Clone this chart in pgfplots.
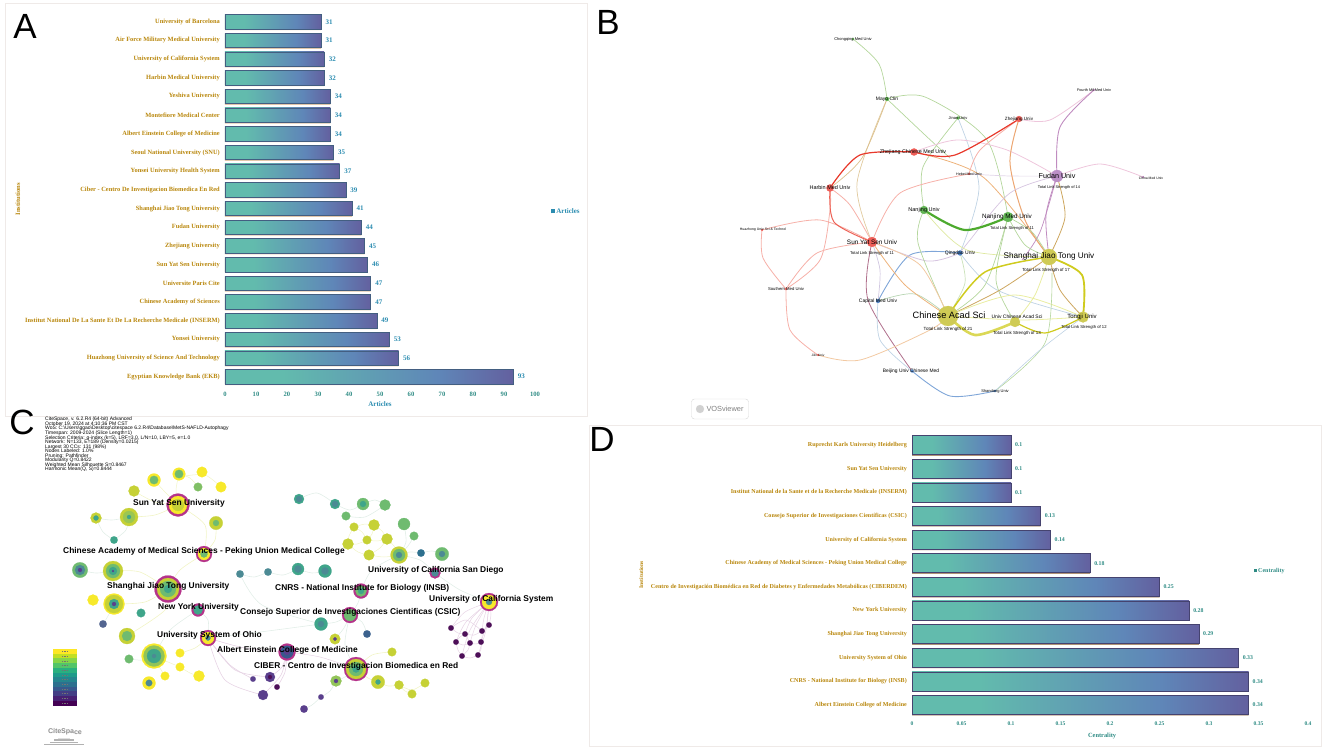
\documentclass[border=0pt]{standalone}
\usepackage{pgfplots}
\usepackage{fontspec}
\pgfplotsset{compat=1.18}
\setmainfont{Liberation Serif}
\newfontfamily\ars{Liberation Sans}
\setlength{\lineskiplimit}{-20pt}

\definecolor{gold}{HTML}{B8860B}
\definecolor{tealtx}{HTML}{2E8B84}
\definecolor{bluetx}{HTML}{2B8CB0}
\definecolor{frame}{HTML}{EFEAE8}
\definecolor{barA}{HTML}{62BBAD}
\definecolor{barB}{HTML}{5F86B8}
\definecolor{barC}{HTML}{63609F}
\pgfdeclarehorizontalshading{barshade}{100bp}{color(0bp)=(barA); color(35bp)=(barA); color(62bp)=(barB); color(75bp)=(barC); color(100bp)=(barC)}

% network colours
\definecolor{gl}{HTML}{B4D69C}
\definecolor{rd}{HTML}{E8392B}
\definecolor{pk}{HTML}{F6B0A8}
\definecolor{lav}{HTML}{D6C4E0}
\definecolor{mv}{HTML}{C08CC0}
\definecolor{pkl}{HTML}{EEC6DC}
\definecolor{org}{HTML}{EDB27A}
\definecolor{tan}{HTML}{CDA65E}
\definecolor{ybig}{HTML}{CFCB1E}
\definecolor{yl2}{HTML}{E9EDA0}
\definecolor{blu}{HTML}{7FA6D8}
\definecolor{blL}{HTML}{BFD3E4}
\definecolor{gth}{HTML}{4DAA2E}
\definecolor{rose}{HTML}{B0708C}
\definecolor{ndR}{HTML}{EE5E58}
\definecolor{ndG}{HTML}{62B554}
\definecolor{ndY}{HTML}{CFCB55}
\definecolor{ndB}{HTML}{4F83C4}
\definecolor{ndP}{HTML}{BB8FC6}
% citespace colours
\definecolor{mg}{HTML}{B5338A}
\definecolor{yl}{HTML}{F7E92B}
\definecolor{yg}{HTML}{C6D136}
\definecolor{gr}{HTML}{6FBB70}
\definecolor{te}{HTML}{3FA58A}
\definecolor{bt}{HTML}{4C8A94}
\definecolor{pu}{HTML}{5A3F8C}
\definecolor{dp}{HTML}{4D0F58}
\definecolor{ly}{HTML}{F1F4C6}
\definecolor{lg}{HTML}{E2EEE8}
\definecolor{lp}{HTML}{E6D3E4}
% colour legend
\definecolor{v1}{HTML}{FDE725}\definecolor{v2}{HTML}{C2DF23}\definecolor{v3}{HTML}{86D549}
\definecolor{v4}{HTML}{52C569}\definecolor{v5}{HTML}{2AB07F}\definecolor{v6}{HTML}{1E9B8A}
\definecolor{v7}{HTML}{25858E}\definecolor{v8}{HTML}{2D708E}\definecolor{v9}{HTML}{38588C}
\definecolor{v10}{HTML}{433E85}\definecolor{v11}{HTML}{482173}\definecolor{v12}{HTML}{440154}

\newcommand{\E}[3]{\addplot[color=#1,line width=#2pt,smooth,mark=none] coordinates {#3};}
\newcommand{\Nd}[4]{\addplot[only marks,mark=*,mark size=#3pt,color=#4,mark options={solid,line width=0.2pt}] coordinates {(#1,#2)};}
\newcommand{\T}[4]{\node[inner sep=0pt,font=\ars\fontsize{#3}{#3}\selectfont] at (axis cs:#1,#2) {#4};}
\newcommand{\TB}[3]{\node[inner sep=0pt,anchor=west,font=\ars\bfseries\fontsize{8.4}{8.4}\selectfont] at (axis cs:#1,#2) {#3};}
\newcommand{\Band}[2]{\addplot[color=#2,line width=4.95pt,mark=none] coordinates {(53,#1)(77,#1)};\addplot[color=black!55,line width=0.7pt,dash pattern=on 1pt off 0.6pt,mark=none] coordinates {(62,#1)(68,#1)};}
\newcommand{\BrA}[2]{\addplot[xbar,bar width=14.4pt,bar shift=0pt,shading=barshade,draw=barB!70!black,line width=.5pt,nodes near coords,point meta=x,nodes near coords style={font=\bfseries\fontsize{7}{7}\selectfont,text=bluetx,anchor=west,xshift=1pt}] coordinates {(#1,#2)};}
\newcommand{\BrD}[2]{\addplot[xbar,bar width=19pt,bar shift=0pt,shading=barshade,draw=barC!70!black,line width=.5pt,nodes near coords,point meta=x,nodes near coords style={font=\bfseries\fontsize{5.8}{5.8}\selectfont,text=tealtx,anchor=west,xshift=0.5pt}] coordinates {(#1,#2)};}

\pgfplotsset{
  barax/.style={
    scale only axis, axis x line*=bottom, axis y line*=left,
    axis line style={draw=none}, major tick length=0pt,
    /pgf/number format/assume math mode=true,
    clip=false,
  },
  pixax/.style={at={(0pt,0pt)},anchor=south west,scale only axis,width=1325pt,height=751pt,
    xmin=0,xmax=1325,ymin=0,ymax=751,y dir=reverse,axis lines=none,clip=false},
}

\begin{document}
\begin{tikzpicture}[x=1pt,y=1pt]
\path[use as bounding box] (0,0) rectangle (1325pt,751pt);

% whole-picture axis in pixel units, holds frames and both networks
\begin{axis}[pixax]
\addplot[color=frame,line width=1pt,mark=none] coordinates {(5,4)(587,4)(587,416)(5,416)(5,4)};
\addplot[color=frame,line width=1pt,mark=none] coordinates {(589,425)(1321,425)(1321,746)(589,746)(589,425)};

% ---- B: VOSviewer links
\E{gl}{.7}{(853,39)(879,64)(887,99)}
\E{tan!60}{.7}{(887,99)(857,183)(872,242)}
\E{gl}{.7}{(887,99)(925,97)(987,140)(1008,217)}
\E{gl}{.7}{(887,99)(925,135)(950,158)}
\E{tan!70}{.7}{(830,188)(862,158)(887,99)}
\E{gl}{.7}{(958,118)(923,167)(924,210)}
\E{blL}{.7}{(958,118)(979,187)(960,253)}
\E{org}{.8}{(914,152)(983,177)(1049,257)}
\E{pkl}{.8}{(914,152)(957,140)(1007,150)(1057,176)}
\E{lav!70}{.7}{(969,174)(1010,176)(1057,176)}
\E{pk}{.8}{(872,242)(900,193)(969,174)}
\E{pk}{.8}{(969,174)(980,150)(1019,119)}
\E{org!90!rd}{1}{(1019,119)(1010,163)(1025,220)(1049,257)}
\E{pkl}{.8}{(1019,119)(1050,120)(1094,90)}
\E{mv}{.9}{(1094,90)(1060,127)(1057,176)}
\E{pkl}{.8}{(1057,176)(1100,164)(1143,177)}
\E{mv}{.8}{(1057,176)(1046,215)(1049,257)}
\E{tan}{.8}{(1057,176)(1065,217)(1049,257)}
\E{mv}{.7}{(1057,176)(1040,232)(1022,260)}
\E{lav}{.7}{(1057,176)(1010,193)(970,240)(960,253)}
\E{blu}{.9}{(960,253)(910,255)(878,301)}
\E{lav}{.8}{(960,253)(927,261)(872,242)}
\E{blL}{.7}{(960,253)(997,290)(1083,317)}
\E{gl!70}{.7}{(960,253)(965,283)(948,316)}
\E{gl}{.7}{(924,210)(918,243)(948,316)}
\E{yl2!80!gl}{.7}{(924,210)(967,250)(1049,257)}
\E{gl}{.7}{(1008,217)(1025,245)(1049,257)}
\E{gl}{.7}{(1008,217)(1032,232)(1049,257)}
\E{gl}{.7}{(1008,217)(996,280)(1015,322)}
\E{gl}{.7}{(1008,217)(985,285)(948,316)}
\E{tan}{.8}{(948,316)(1000,290)(1049,257)}
\E{tan}{.8}{(1049,257)(1060,290)(1083,317)}
\E{yl2}{.8}{(948,316)(1015,295)(1083,317)}
\E{yl2}{.8}{(948,316)(1020,320)(1083,317)}
\E{yl2}{.8}{(1049,257)(1035,295)(1015,322)}
\E{gl}{.6}{(1052,273)(1045,343)(995,391)}
\E{blL}{.6}{(1083,317)(1040,350)(995,391)}
\E{rose}{.8}{(872,242)(868,300)(912,371)}
\E{blu}{.9}{(912,371)(950,396)(995,391)}
\E{blL}{.7}{(878,301)(880,340)(912,371)}
\E{lav!80!blL}{.7}{(872,242)(880,270)(878,301)}
\E{gl!70!blL}{.7}{(878,301)(915,294)(948,316)}
\E{org}{.8}{(872,242)(905,285)(948,316)}
\E{org!70}{.8}{(872,242)(920,265)(948,316)}
\E{pk}{.8}{(762,230)(820,220)(872,242)}
\E{pk}{.8}{(762,230)(763,258)(786,289)}
\E{pk}{.8}{(786,289)(817,253)(872,242)}
\E{pk}{.8}{(786,289)(820,260)(830,210)(830,188)}
\E{pk}{.8}{(786,289)(790,330)(818,355)}
\E{org!70}{.8}{(818,355)(860,360)(930,330)(948,316)}
\E{pk}{.8}{(830,188)(850,205)(872,242)}
\E{rd!80}{1}{(830,188)(834,222)(872,242)}
\E{rd}{1.2}{(830,188)(860,155)(914,152)}
\E{rd}{1.2}{(914,152)(955,155)(1019,119)}
\E{gth}{2.2}{(924,210)(965,230)(1008,217)}
\E{ybig}{1.5}{(948,316)(985,272)(1049,257)}
\E{ybig}{1.8}{(1049,257)(1082,275)(1083,317)}
\E{ybig!75}{2.6}{(948,316)(975,335)(1015,322)}
\E{ybig}{1.2}{(1015,322)(1045,333)(1083,317)}

% ---- B: nodes
\Nd{853}{39}{1.2}{ndG}\Nd{887}{99}{2}{ndG}\Nd{958}{118}{1.6}{ndG}
\Nd{914}{152}{3.6}{ndR}\Nd{830}{188}{3.6}{ndR}\Nd{969}{174}{1}{ndR}
\Nd{924}{210}{4}{ndG}\Nd{1019}{119}{3}{ndR}\Nd{1094}{90}{1}{mv}
\Nd{1057}{176}{6}{ndP}\Nd{1143}{177}{1}{mv}\Nd{1008}{217}{5}{ndG}
\Nd{872}{242}{5}{ndR}\Nd{762}{230}{1}{ndR}\Nd{960}{253}{2.5}{ndB}
\Nd{1049}{257}{8}{ndY}\Nd{786}{289}{1.2}{ndR}\Nd{878}{301}{2}{ndB}
\Nd{948}{316}{10}{ndY}\Nd{1015}{322}{5}{ndY}\Nd{1083}{317}{5.5}{ndY}
\Nd{818}{355}{1}{ndR}\Nd{912}{371}{1.6}{ndB}\Nd{995}{391}{1.2}{ndB}

% ---- C: CiteSpace links
\E{ly}{.5}{(178,505)(165,492)(154,480)}
\E{ly}{.5}{(178,505)(176,490)(179,474)}
\E{ly}{.6}{(178,505)(155,515)(129,517)}
\E{ly}{.6}{(178,505)(205,525)(204,554)}
\E{ly}{.5}{(179,474)(190,478)(198,487)}
\E{ly}{.5}{(185,476)(205,475)(221,487)}
\E{ly}{.5}{(134,491)(155,502)(178,505)}
\E{lg}{.6}{(129,517)(112,520)(96,518)}
\E{lg}{.6}{(129,517)(126,530)(114,540)}
\E{lg}{.6}{(96,518)(103,532)(114,540)}
\E{ly}{.6}{(216,523)(215,540)(204,554)}
\E{ly}{.6}{(204,554)(180,570)(168,589)}
\E{ly}{.6}{(113,571)(140,572)(168,589)}
\E{lg}{.6}{(80,570)(96,573)(113,571)}
\E{ly}{.6}{(114,604)(145,602)(168,589)}
\E{ly}{.6}{(168,589)(165,610)(127,636)}
\E{lg}{.5}{(103,624)(108,616)(114,604)}
\E{lg}{.6}{(198,610)(208,620)(208,638)}
\E{lg}{.6}{(154,656)(170,630)(198,610)}
\E{ly}{.6}{(208,638)(195,648)(180,653)}
\E{ly}{.5}{(154,656)(168,662)(180,667)}
\E{ly}{.5}{(154,656)(160,668)(165,676)}
\E{ly}{.5}{(180,667)(190,673)(199,676)}
\E{lg}{.5}{(154,656)(142,660)(129,659)}
\E{lp}{.6}{(208,638)(245,648)(287,652)}
\E{lp}{.6}{(208,638)(235,670)(270,677)}
\E{lp}{.6}{(208,638)(225,680)(263,695)}
\E{lp}{.6}{(208,638)(230,665)(253,679)}
\E{lp}{.6}{(287,652)(282,667)(270,677)}
\E{lp}{.6}{(287,652)(281,675)(263,695)}
\E{lp}{.6}{(287,652)(285,672)(277,687)}
\E{lg}{.6}{(240,574)(254,577)(268,572)}
\E{lg}{.6}{(268,572)(283,575)(298,569)}
\E{lg}{.6}{(298,569)(312,573)(325,571)}
\E{lg}{.6}{(240,574)(262,605)(321,624)}
\E{lg}{.6}{(321,624)(260,632)(208,638)}
\E{lg}{.6}{(321,624)(336,622)(350,615)}
\E{lg}{.6}{(350,615)(344,628)(335,639)}
\E{lg}{.6}{(350,615)(362,622)(367,634)}
\E{lg}{.6}{(350,615)(345,645)(356,669)}
\E{lg}{.6}{(361,591)(358,603)(350,615)}
\E{lg}{.6}{(361,591)(372,570)(399,555)}
\E{lg}{.6}{(399,555)(420,560)(435,573)}
\E{lg}{.6}{(435,573)(460,590)(489,602)}
\E{lg}{.6}{(399,555)(410,552)(421,553)}
\E{lg}{.6}{(421,553)(432,551)(442,554)}
\E{lg}{.6}{(299,499)(317,493)(335,504)}
\E{lg}{.6}{(335,504)(350,510)(363,504)}
\E{lg}{.6}{(363,504)(375,500)(385,505)}
\E{lg}{.6}{(346,516)(365,517)(385,505)}
\E{lg}{.6}{(404,524)(406,542)(399,555)}
\E{lg}{.6}{(414,536)(408,546)(399,555)}
\E{ly}{.5}{(354,527)(365,524)(374,525)}
\E{ly}{.5}{(354,527)(349,536)(348,544)}
\E{ly}{.5}{(354,527)(362,532)(367,540)}
\E{ly}{.5}{(374,525)(372,534)(367,540)}
\E{ly}{.5}{(374,525)(382,531)(387,539)}
\E{ly}{.5}{(348,544)(357,544)(367,540)}
\E{ly}{.5}{(367,540)(377,541)(387,539)}
\E{ly}{.5}{(348,544)(358,552)(369,555)}
\E{ly}{.5}{(369,555)(380,548)(387,539)}
\E{ly}{.5}{(369,555)(384,557)(399,555)}
\E{ly}{.5}{(387,539)(394,546)(399,555)}
\E{ly}{.6}{(356,669)(372,655)(392,652)}
\E{lg}{.6}{(356,669)(345,677)(336,681)}
\E{ly}{.6}{(356,669)(368,678)(378,682)}
\E{ly}{.6}{(378,682)(388,686)(399,685)}
\E{ly}{.6}{(399,685)(412,690)(425,683)}
\E{ly}{.6}{(399,685)(405,691)(412,694)}
\E{lg}{.6}{(336,681)(330,691)(321,697)}
\E{lg}{.6}{(321,697)(312,705)(304,709)}
\E{lp}{.5}{(287,652)(320,657)(356,669)}
% purple cluster
\E{lp}{.5}{(489,602)(465,612)(451,628)}
\E{lp}{.5}{(489,602)(472,618)(465,634)}
\E{lp}{.5}{(489,602)(484,618)(482,631)}
\E{lp}{.5}{(489,602)(491,614)(489,625)}
\E{lp}{.5}{(489,602)(466,622)(456,642)}
\E{lp}{.5}{(489,602)(476,625)(470,643)}
\E{lp}{.5}{(489,602)(487,622)(481,642)}
\E{lp}{.5}{(489,602)(470,630)(462,656)}
\E{lp}{.5}{(489,602)(486,630)(478,655)}
\E{lp}{.5}{(451,628)(458,633)(465,634)}
\E{lp}{.5}{(451,628)(466,620)(482,631)}
\E{lp}{.5}{(465,634)(474,635)(482,631)}
\E{lp}{.5}{(456,642)(460,637)(465,634)}
\E{lp}{.5}{(456,642)(463,645)(470,643)}
\E{lp}{.5}{(470,643)(476,644)(481,642)}
\E{lp}{.5}{(462,656)(468,650)(470,643)}
\E{lp}{.5}{(462,656)(470,658)(478,655)}
\E{lp}{.5}{(478,655)(481,649)(481,642)}
\E{lp}{.5}{(465,634)(468,639)(470,643)}
\E{lp}{.5}{(482,631)(482,637)(481,642)}
\E{lp}{.5}{(456,642)(458,650)(462,656)}
\E{lp}{.5}{(489,625)(486,628)(482,631)}

% ---- C: nodes, outer ring first
\Nd{154}{480}{6.5}{yl}\Nd{154}{480}{4.2}{gr}
\Nd{179}{474}{6.3}{yl}\Nd{179}{474}{4.2}{gr}
\Nd{202}{472}{5.3}{yl}\Nd{221}{487}{5.3}{yl}\Nd{198}{487}{4.3}{gr!80!yg}
\Nd{134}{491}{5.5}{yg}
\Nd{178}{505}{11.5}{mg}\Nd{178}{505}{9}{yl}\Nd{178}{505}{6}{yg}
\Nd{129}{517}{9}{yg}\Nd{129}{517}{6}{gr!50!yg}\Nd{129}{517}{2}{te}
\Nd{96}{518}{5.5}{yg}\Nd{96}{518}{2.5}{te}
\Nd{114}{540}{3.7}{te}
\Nd{216}{523}{6.7}{yg}\Nd{216}{523}{3}{gr}
\Nd{204}{554}{8}{mg}\Nd{204}{554}{6}{yl}\Nd{204}{554}{3.5}{gr}
\Nd{80}{570}{7.7}{gr}\Nd{80}{570}{5}{bt}\Nd{80}{570}{2}{pu}
\Nd{113}{571}{10}{yg}\Nd{113}{571}{7}{gr}\Nd{113}{571}{4}{te}\Nd{113}{571}{1}{pu}
\Nd{240}{574}{3.7}{bt}\Nd{268}{572}{3.7}{bt}
\Nd{299}{499}{5}{te}\Nd{299}{499}{3}{bt}
\Nd{335}{504}{5}{te}\Nd{335}{504}{3}{bt}
\Nd{363}{504}{6}{gr}\Nd{363}{504}{3}{te}
\Nd{385}{505}{5.5}{gr}\Nd{346}{516}{4.3}{gr}\Nd{404}{524}{6}{gr}\Nd{414}{536}{4.3}{gr}
\Nd{354}{527}{4.3}{yg}\Nd{374}{525}{5.5}{yg}\Nd{348}{544}{5.5}{yg}\Nd{367}{540}{4.3}{yg}
\Nd{387}{539}{5.5}{yg}\Nd{369}{555}{5.3}{yg}
\Nd{399}{555}{8.5}{yg}\Nd{399}{555}{6}{gr}\Nd{399}{555}{3}{bt}
\Nd{421}{553}{3.7}{v8}
\Nd{442}{554}{6.7}{gr}\Nd{442}{554}{3}{bt}
\Nd{435}{573}{5.5}{mg}\Nd{435}{573}{3.5}{bt}
\Nd{298}{569}{6}{te}\Nd{298}{569}{3.5}{bt}
\Nd{325}{571}{6.5}{te}\Nd{325}{571}{3.5}{bt}
\Nd{361}{591}{7.5}{mg}\Nd{361}{591}{5.5}{gr}\Nd{361}{591}{3}{te}
\Nd{350}{615}{8}{mg}\Nd{350}{615}{6}{gr}
\Nd{321}{624}{6.5}{te}\Nd{321}{624}{3}{bt}
\Nd{335}{639}{5.3}{yg}\Nd{335}{639}{1.8}{pu}
\Nd{367}{634}{3.7}{v9!80!bt}
\Nd{287}{652}{8.5}{mg}\Nd{287}{652}{6.3}{v9}\Nd{287}{652}{3}{pu}
\Nd{356}{669}{12}{mg}\Nd{356}{669}{10}{yg}\Nd{356}{669}{7}{gr}\Nd{356}{669}{3.5}{te}
\Nd{392}{652}{4.3}{yg}
\Nd{336}{681}{5.5}{gr!60!yg}\Nd{336}{681}{2}{pu}
\Nd{378}{682}{6.7}{yg}\Nd{378}{682}{2.5}{te}
\Nd{399}{685}{4.5}{yg}\Nd{425}{683}{4.3}{yg}\Nd{412}{694}{4.3}{yg}
\Nd{321}{697}{2.7}{pu}\Nd{304}{709}{3.7}{pu}
\Nd{489}{602}{9}{mg}\Nd{489}{602}{7}{yl}\Nd{489}{602}{3}{bt}
\Nd{451}{628}{2.7}{dp}\Nd{465}{634}{2.7}{dp}\Nd{482}{631}{2.7}{dp}\Nd{489}{625}{2.7}{dp}
\Nd{456}{642}{2.7}{dp}\Nd{470}{643}{2.7}{dp}\Nd{481}{642}{2.7}{dp}\Nd{462}{656}{2.7}{dp}\Nd{478}{655}{2.7}{dp}
\Nd{168}{589}{13.5}{mg}\Nd{168}{589}{11}{yg}\Nd{168}{589}{8}{gr}\Nd{168}{589}{4}{te}
\Nd{93}{600}{5.5}{yl}
\Nd{114}{604}{10.5}{yl}\Nd{114}{604}{9}{yg}\Nd{114}{604}{5}{te}\Nd{114}{604}{2}{pu}
\Nd{141}{613}{4.3}{te}\Nd{103}{624}{3.7}{pu!50!bt}
\Nd{198}{610}{6.5}{mg}\Nd{198}{610}{4.5}{te}
\Nd{127}{636}{8}{yg}\Nd{127}{636}{5}{gr}
\Nd{208}{638}{8}{mg}\Nd{208}{638}{6}{yl}\Nd{208}{638}{2.5}{bt}
\Nd{154}{656}{12.5}{yl}\Nd{154}{656}{10.5}{gr!60!yg}\Nd{154}{656}{7}{te}\Nd{154}{656}{2}{bt}
\Nd{180}{653}{4.3}{yl}\Nd{129}{659}{4.3}{gr}\Nd{180}{667}{4.3}{yl}\Nd{165}{676}{4.3}{yl}
\Nd{199}{676}{5.5}{yl}\Nd{149}{683}{6.5}{yl}\Nd{149}{683}{3.3}{bt}
\Nd{270}{677}{5}{pu}\Nd{270}{677}{2}{dp}\Nd{253}{679}{2.7}{pu}\Nd{277}{687}{2.7}{dp}\Nd{263}{695}{5}{pu}

% C colour legend
\Band{651.5}{v1}\Band{656.2}{v2}\Band{660.9}{v3}\Band{665.6}{v4}
\Band{670.3}{v5}\Band{675}{v6}\Band{679.7}{v7}\Band{684.4}{v8}
\Band{689.1}{v9}\Band{693.8}{v10}\Band{698.5}{v11}\Band{703.2}{v12}

% logos
\addplot[color=black!30,line width=.8pt,mark=none] coordinates {(44,744)(84,744)};
\addplot[color=black!30,line width=1pt,mark=none] coordinates {(50,742)(78,742)};
\addplot[color=black!30,line width=1.2pt,mark=none] coordinates {(54,740)(74,740)};
\addplot[color=black!12,line width=.8pt,mark=none] coordinates {(58,738)(70,738)};
\Nd{700}{409}{4}{black!18}
\end{axis}

% same pixel frame again so that the texts lie above the marks
\begin{axis}[pixax]
\node[inner sep=0pt,font=\ars\fontsize{35}{35}\selectfont] at (axis cs:25,26) {A};
\node[inner sep=0pt,font=\ars\fontsize{35}{35}\selectfont] at (axis cs:608,22) {B};
\node[inner sep=0pt,font=\ars\fontsize{35}{35}\selectfont] at (axis cs:22,422) {C};
\node[inner sep=0pt,font=\ars\fontsize{35}{35}\selectfont] at (axis cs:602,439) {D};
\node[inner sep=0pt,anchor=west,font=\bfseries\fontsize{7}{7}\selectfont,text=bluetx] at (axis cs:551,211) {\rule{4pt}{4pt}\,Articles};
\node[inner sep=0pt,anchor=west,font=\bfseries\fontsize{6}{6}\selectfont,text=tealtx] at (axis cs:1254,571) {\rule{3pt}{3pt}\,Centrality};

% B labels
\T{853}{39}{4}{Chongqing Med Univ}
\T{887}{99}{5}{Mayo Clin}
\T{958}{118}{4}{Jinan Univ}
\T{913}{152}{5.4}{Zhejiang Chinese Med Univ}
\T{1019}{119}{4.6}{Zhejiang Univ}
\T{1094}{90}{3.8}{Fourth Mil Med Univ}
\T{1057}{176}{7.2}{Fudan Univ}
\T{1059}{187}{3.9}{Total Link Strength of 14}
\T{1151}{178}{3.4}{China Med Univ}
\T{969}{174}{3.6}{Hebei Med Univ}
\T{830}{188}{5.5}{Harbin Med Univ}
\T{924}{210}{5.5}{Nanjing Univ}
\T{1007}{217}{6.3}{Nanjing Med Univ}
\T{1012}{228}{4.1}{Total Link Strength of 11}
\T{763}{230}{3.5}{Huazhong Univ Sci \& Technol}
\T{872}{242}{6.4}{Sun Yat Sen Univ}
\T{872}{253}{4.1}{Total Link Strength of 11}
\T{960}{253}{5}{Qingdao Univ}
\T{1049}{256}{8.2}{Shanghai Jiao Tong Univ}
\T{1046}{270}{4.4}{Total Link Strength of 17}
\T{786}{289}{4.2}{Southern Med Univ}
\T{878}{301}{5}{Capital Med Univ}
\T{949}{315}{9.2}{Chinese Acad Sci}
\T{948}{329}{4.5}{Total Link Strength of 21}
\T{1017}{317}{5}{Univ Chinese Acad Sci}
\T{1017}{333}{4.4}{Total Link Strength of 13}
\T{1082}{317}{6}{Tongji Univ}
\T{1084}{327}{4.2}{Total Link Strength of 12}
\T{818}{355}{3.2}{Jilin Univ}
\T{911}{371}{4.9}{Beijing Univ Chinese Med}
\T{995}{391}{4}{Shandong Univ}

\node[draw=black!16,rounded corners=3pt,minimum width=57pt,minimum height=20pt,inner sep=0pt] at (axis cs:720,409) {};
\node[inner sep=0pt,text=black!50,font=\ars\fontsize{7.4}{7.4}\selectfont] at (axis cs:725,409) {VOSviewer};
\node[inner sep=0pt,text=black!45,font=\ars\bfseries\fontsize{7}{7}\selectfont,rotate=-2] at (axis cs:65,732) {CiteSpace};

% C labels
\TB{133}{503}{Sun Yat Sen University}
\TB{63}{551}{Chinese Academy of Medical Sciences - Peking Union Medical College}
\TB{107}{586}{Shanghai Jiao Tong University}
\TB{158}{607}{New York University}
\TB{157}{635}{University System of Ohio}
\TB{217}{650}{Albert Einstein College of Medicine}
\TB{254}{666}{CIBER - Centro de Investigacion Biomedica en Red}
\TB{240}{612}{Consejo Superior de Investigaciones Cientificas (CSIC)}
\TB{275}{588}{CNRS - National Institute for Biology (INSB)}
\TB{368}{570}{University of California San Diego}
\TB{429}{599}{University of California System}

\node[inner sep=0pt,anchor=north west,align=left,font=\ars\fontsize{5}{4.55}\selectfont] at (axis cs:45,417) {CiteSpace, v. 6.2.R4 (64-bit) Advanced\\
October 19, 2024 at 4:10:36 PM CST\\
WoS: C:\textbackslash Users\textbackslash ggao\textbackslash Desktop\textbackslash citespace 6.2.R4\textbackslash Database\textbackslash MetS-NAFLD-Autophagy\\
Timespan: 2009-2024 (Slice Length=1)\\
Selection Criteria: g-index (k=5), LRF=3.0, L/N=10, LBY=5, e=1.0\\
Network: N=133, E=189 (Density=0.0215)\\
Largest 30 CCs: 131 (98\%)\\
Nodes Labeled: 1.0\%\\
Pruning: Pathfinder\\
Modularity Q=0.8422\\
Weighted Mean Silhouette S=0.8467\\
Harmonic Mean(Q, S)=0.8444};
\end{axis}

% ---- A: articles
\begin{axis}[barax,at={(225pt,365pt)},anchor=south west,width=310pt,height=373.6pt,
  xmin=0,xmax=100,ymin=-0.5,ymax=19.5,xtick={0,10,...,100},ytick={0,...,19},
  x tick label style={font=\bfseries\fontsize{6.6}{6.6}\selectfont,text=tealtx,yshift=-3pt},
  y tick label style={font=\bfseries\fontsize{6.4}{6.4}\selectfont,text=gold,inner sep=5pt},
  xlabel=Articles,
  xlabel style={at={(axis description cs:0.5,-0.048)},anchor=center,font=\bfseries\fontsize{7}{7}\selectfont,text=bluetx},
  ylabel=Institutions,
  ylabel style={at={(axis description cs:-0.668,0.5)},rotate=0,anchor=center,font=\bfseries\fontsize{6.6}{6.6}\selectfont,text=gold},
  yticklabels={{Egyptian Knowledge Bank (EKB)},{Huazhong University of Science And Technology},{Yonsei University},{Institut National De La Sante Et De La Recherche Medicale (INSERM)},{Chinese Academy of Sciences},{Universite Paris Cite},{Sun Yat Sen University},{Zhejiang University},{Fudan University},{Shanghai Jiao Tong University},{Ciber - Centro De Investigacion Biomedica En Red},{Yonsei University Health System},{Seoul National University (SNU)},{Albert Einstein College of Medicine},{Montefiore Medical Center},{Yeshiva University},{Harbin Medical University},{University of California System},{Air Force Military Medical University},{University of Barcelona}},
]
\addplot[xbar,bar width=14.4pt,bar shift=-1.2pt,fill=brown!45,draw=none] coordinates {(93,0)(56,1)(53,2)(49,3)(47,4)(47,5)(46,6)(45,7)(44,8)(41,9)(39,10)(37,11)(35,12)(34,13)(34,14)(34,15)(32,16)(32,17)(31,18)(31,19)};
\BrA{93}{0}\BrA{56}{1}\BrA{53}{2}\BrA{49}{3}\BrA{47}{4}\BrA{47}{5}\BrA{46}{6}\BrA{45}{7}\BrA{44}{8}\BrA{41}{9}
\BrA{39}{10}\BrA{37}{11}\BrA{35}{12}\BrA{34}{13}\BrA{34}{14}\BrA{34}{15}\BrA{32}{16}\BrA{32}{17}\BrA{31}{18}\BrA{31}{19}
\end{axis}

% ---- D: centrality
\begin{axis}[barax,at={(912pt,34.2pt)},anchor=south west,width=396pt,height=283.6pt,
  xmin=0,xmax=0.4,ymin=-0.5,ymax=11.5,xtick={0,0.05,...,0.41},ytick={0,...,11},
  xticklabels={0,0.05,0.1,0.15,0.2,0.25,0.3,0.35,0.4},
  x tick label style={font=\bfseries\fontsize{5.6}{5.6}\selectfont,text=tealtx,yshift=-1pt},
  y tick label style={font=\bfseries\fontsize{6.05}{6.05}\selectfont,text=gold,inner sep=5pt},
  xlabel=Centrality,
  xlabel style={at={(axis description cs:0.48,-0.068)},anchor=center,font=\bfseries\fontsize{6.4}{6.4}\selectfont,text=tealtx},
  ylabel=Institutions,
  ylabel style={at={(axis description cs:-0.684,0.5)},rotate=0,anchor=center,font=\bfseries\fontsize{5.6}{5.6}\selectfont,text=gold},
  yticklabels={{Albert Einstein College of Medicine},{CNRS - National Institute for Biology (INSB)},{University System of Ohio},{Shanghai Jiao Tong University},{New York University},{Centro de Investigación Biomédica en Red de Diabetes y Enfermedades Metabólicas (CIBERDEM)},{Chinese Academy of Medical Sciences - Peking Union Medical College},{University of California System},{Consejo Superior de Investigaciones Científicas (CSIC)},{Institut National de la Sante et de la Recherche Medicale (INSERM)},{Sun Yat Sen University},{Ruprecht Karls University Heidelberg}},
]
\addplot[xbar,bar width=19pt,bar shift=-1pt,fill=brown!70!black,draw=none] coordinates {(0.34,0)(0.34,1)(0.33,2)(0.29,3)(0.28,4)(0.25,5)(0.18,6)(0.14,7)(0.13,8)(0.1,9)(0.1,10)(0.1,11)};
\BrD{0.34}{0}\BrD{0.34}{1}\BrD{0.33}{2}\BrD{0.29}{3}\BrD{0.28}{4}\BrD{0.25}{5}
\BrD{0.18}{6}\BrD{0.14}{7}\BrD{0.13}{8}\BrD{0.1}{9}\BrD{0.1}{10}\BrD{0.1}{11}
\end{axis}
\end{tikzpicture}
\end{document}
